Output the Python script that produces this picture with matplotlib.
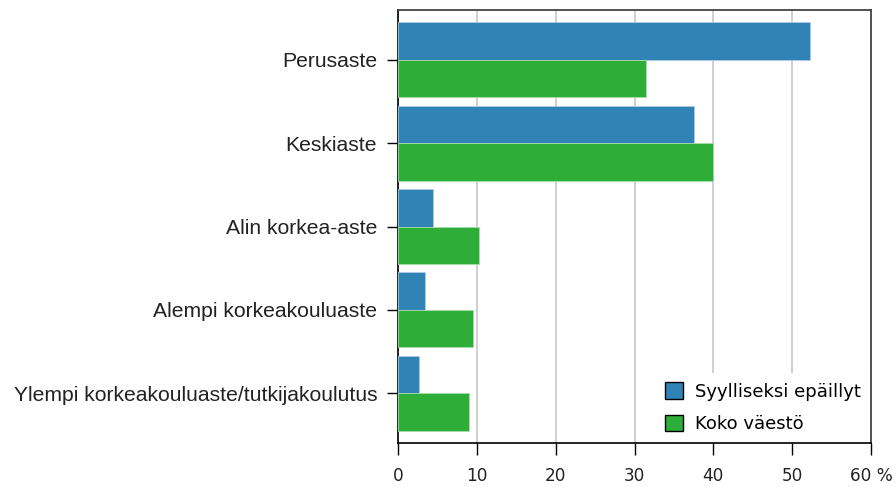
import numpy as np
import matplotlib
matplotlib.use("Agg")
import matplotlib.pyplot as plt
from matplotlib.patches import Patch

# education levels (top to bottom) and shares in %
categories = ["Perusaste",
              "Keskiaste",
              "Alin korkea-aste",
              "Alempi korkeakouluaste",
              "Ylempi korkeakouluaste/tutkijakoulutus"]
suspects = [52.2, 37.5, 4.4, 3.4, 2.7]
population = [31.4, 40.0, 10.3, 9.5, 9.0]
series_names = ["Syylliseksi epäillyt", "Koko väestö"]
xticks = [0, 10, 20, 30, 40, 50, 60]
xticklabels = ["0", "10", "20", "30", "40", "50", "60 %"]

blue = "#3182b5"
green = "#2eae38"

fig = plt.figure(figsize=(8.96, 4.87), dpi=100)
ax = fig.add_axes([398 / 896, 44 / 487, 473 / 896, 433 / 487])

pos = np.arange(len(categories))
h = 0.45
ax.barh(pos - h / 2, suspects, height=h, color=blue, edgecolor="#a9cbe3",
        linewidth=0.6, zorder=3)
ax.barh(pos + h / 2, population, height=h, color=green, edgecolor="#a8dcae",
        linewidth=0.6, zorder=3)

ax.set_xlim(0, 60)
ax.set_ylim(len(categories) - 1 + 0.6, -0.6)
ax.set_xticks(xticks)
ax.set_xticklabels(xticklabels, fontsize=12.2, family="DejaVu Sans",
                   color="#222222")
ax.set_yticks(pos)
ax.set_yticklabels(categories, fontsize=15.2, family="Liberation Sans",
                   color="#222222")

ax.xaxis.grid(True, color="#cccccc", linewidth=1.3, zorder=0)
ax.set_axisbelow(True)

ax.tick_params(axis="x", length=8.5, width=1, pad=9)
ax.tick_params(axis="y", length=8, width=1, pad=7)

for s in ["left", "bottom"]:
    ax.spines[s].set_color("black")
    ax.spines[s].set_linewidth(1.2)
for s in ["top", "right"]:
    ax.spines[s].set_color("#444444")
    ax.spines[s].set_linewidth(1.3)

handles = [Patch(facecolor=blue, edgecolor="black", linewidth=1),
           Patch(facecolor=green, edgecolor="black", linewidth=1)]
leg = ax.legend(handles, series_names, loc="lower right",
                bbox_to_anchor=(1.0, 0.0), frameon=True, fancybox=False,
                facecolor="white", edgecolor="none", framealpha=1,
                handlelength=0.95, handleheight=1.05, handletextpad=0.7,
                labelspacing=0.75, borderpad=0.55, borderaxespad=0.0,
                prop={"family": "DejaVu Sans", "size": 13})
# keep the legend box above the grid but under the spines
leg.set_zorder(2)

plt.savefig("out.png", dpi=100)
